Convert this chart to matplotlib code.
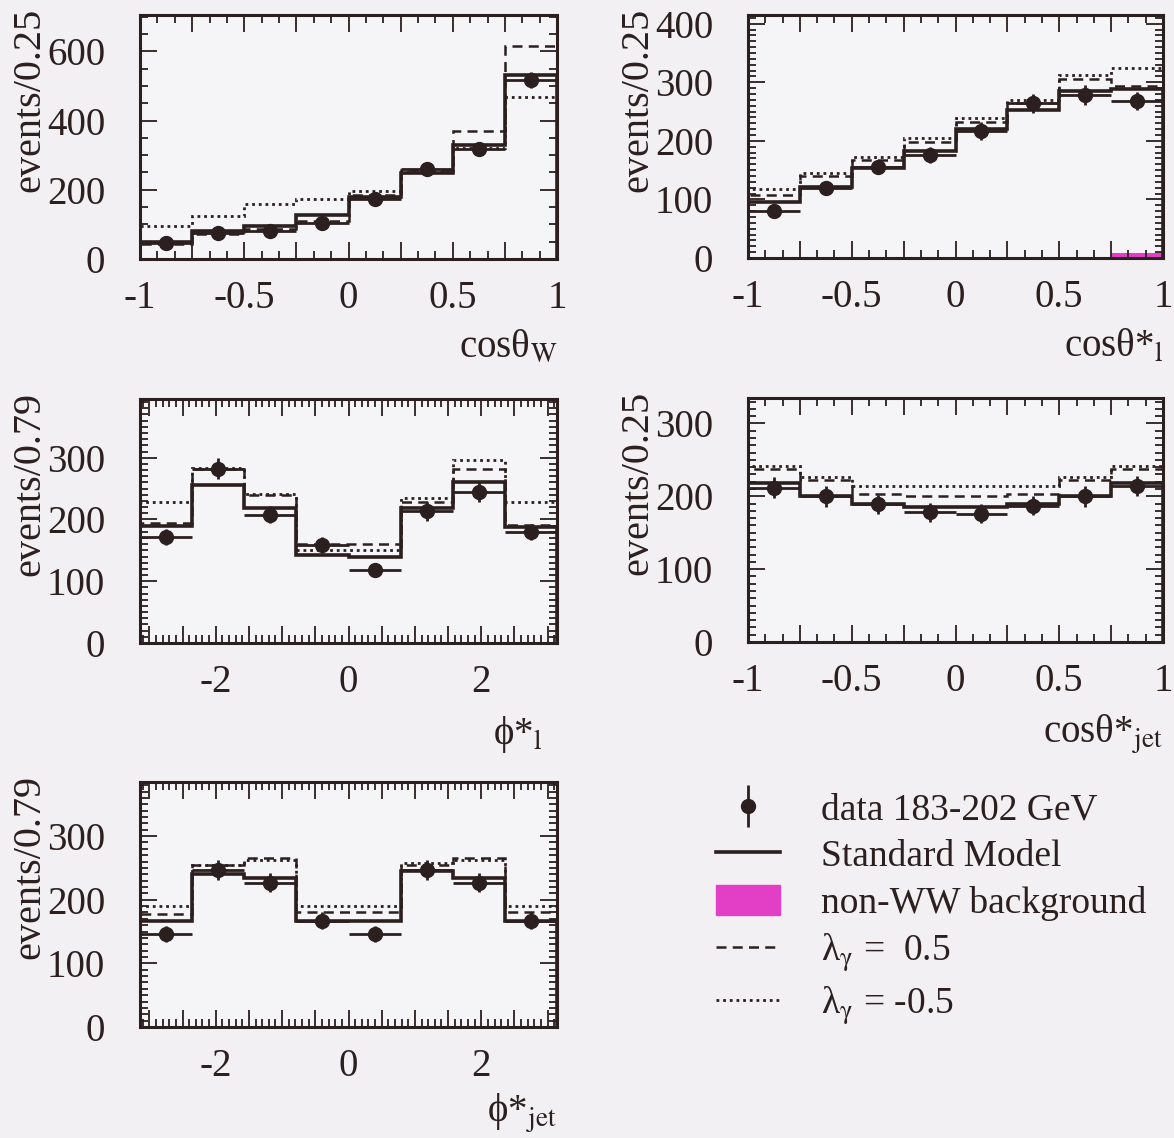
import numpy as np
import matplotlib.pyplot as plt
from matplotlib.lines import Line2D
from matplotlib.patches import Patch
from matplotlib.legend_handler import HandlerTuple
from matplotlib.ticker import MultipleLocator, FuncFormatter

plt.rcParams['font.family'] = ['Liberation Serif', 'DejaVu Serif']
plt.rcParams['mathtext.fontset'] = 'stix'
plt.rcParams['axes.unicode_minus'] = False

INK = '#2b1f1f'
BG = '#f2f0f2'
MAG = '#e23fc6'

# --- values (events per bin) ---
# cos theta_W
sm_cosw = [50, 80, 94, 127, 178, 248, 330, 532]
dash_cosw = [42, 72, 86, 110, 185, 258, 370, 615]
dot_cosw = [95, 124, 160, 172, 196, 252, 320, 468]
data_cosw = [45, 76, 82, 104, 172, 260, 318, 518]
err_cosw = [7, 9, 9, 10, 13, 16, 18, 23]

# cos theta*_l
sm_cosl = [95, 122, 153, 183, 220, 253, 286, 289]
dash_cosl = [108, 140, 168, 198, 232, 265, 305, 294]
dot_cosl = [117, 145, 172, 205, 239, 270, 312, 325]
data_cosl = [80, 120, 155, 176, 217, 264, 278, 268]
err_cosl = [9, 11, 12, 13, 15, 16, 17, 16]
bkg_cosl = [0, 0, 0, 0, 0, 0, 0, 8]

# phi*_l
sm_phil = [189, 255, 218, 142, 139, 218, 260, 187]
dash_phil = [195, 282, 239, 160, 160, 229, 282, 191]
dot_phil = [229, 284, 242, 150, 150, 234, 297, 229]
data_phil = [171, 282, 208, 158, 118, 213, 245, 179]
err_phil = [13, 17, 14, 13, 11, 15, 16, 13]

# cos theta*_jet
sm_cosj = [218, 200, 190, 186, 186, 190, 200, 218]
dash_cosj = [238, 222, 203, 200, 200, 203, 222, 238]
dot_cosj = [241, 227, 214, 214, 214, 214, 227, 241]
data_cosj = [212, 200, 189, 178, 176, 187, 200, 214]
err_cosj = [14, 14, 13, 13, 13, 13, 14, 14]

# phi*_jet
sm_phij = [167, 240, 234, 167, 167, 245, 234, 167]
dash_phij = [177, 255, 266, 180, 180, 255, 266, 180]
dot_phij = [190, 255, 262, 190, 190, 258, 262, 190]
data_phij = [146, 247, 227, 167, 146, 247, 227, 167]
err_phij = [12, 16, 15, 13, 12, 16, 15, 13]

cos_edges = np.linspace(-1, 1, 9)
phi_edges = np.linspace(-np.pi, np.pi, 9)

W, H = 1174, 1138
fig = plt.figure(figsize=(W / 100, H / 100), dpi=100, facecolor=BG)


def px_axes(left, top, right, bottom):
    return fig.add_axes([left / W, 1 - bottom / H, (right - left) / W, (bottom - top) / H])


def cos_fmt(v, pos):
    return f'{v:g}' if abs(v * 2 - round(v * 2)) < 1e-6 else ''


def phi_fmt(v, pos):
    return f'{v:g}' if abs(v) < 1e-6 or abs(abs(v) - 2) < 1e-6 else ''


def panel(ax, edges, sm, dash, dot, data, err, ylab, xlab, ytop, ymajor, yminor,
          kind, bkg=None, xlab_x=1.0, xlab_y=-0.29):
    ax.set_facecolor('#f5f4f6')
    if bkg is not None:
        ax.stairs(bkg, edges, fill=True, color=MAG, zorder=1)
    ax.stairs(sm, edges, color=INK, lw=2.6, zorder=3)
    ax.stairs(dash, edges, color=INK, lw=1.8, ls=(0, (4, 2.5)), zorder=3)
    ax.stairs(dot, edges, color=INK, lw=2.0, ls=(0, (1, 1.4)), zorder=3)
    centers = (edges[:-1] + edges[1:]) / 2
    half = (edges[1] - edges[0]) / 2
    ax.errorbar(centers, data, yerr=err, xerr=half, fmt='o', ms=10, color=INK,
                elinewidth=2, capsize=0, zorder=4)
    ax.set_xlim(edges[0], edges[-1])
    ax.set_ylim(0, ytop)
    if kind == 'cos':
        ax.xaxis.set_major_locator(MultipleLocator(0.25))
        ax.xaxis.set_minor_locator(MultipleLocator(0.25 / 3))
        ax.xaxis.set_major_formatter(FuncFormatter(cos_fmt))
    else:
        ax.xaxis.set_major_locator(MultipleLocator(0.5))
        ax.xaxis.set_minor_locator(MultipleLocator(0.1))
        ax.xaxis.set_major_formatter(FuncFormatter(phi_fmt))
    ax.yaxis.set_major_locator(MultipleLocator(ymajor))
    ax.yaxis.set_minor_locator(MultipleLocator(yminor))
    ax.tick_params(which='both', direction='in', top=True, right=True,
                   colors=INK, labelsize=28, width=1.3)
    ax.tick_params(which='major', length=12)
    ax.tick_params(which='minor', length=6)
    ax.tick_params(axis='x', pad=15)
    ax.tick_params(axis='y', pad=25)
    for s in ax.spines.values():
        s.set_linewidth(2.2)
        s.set_color(INK)
    ax.text(-0.265, 1.03, ylab, transform=ax.transAxes, rotation=90,
            ha='center', va='top', fontsize=29, color=INK)
    ax.text(xlab_x, xlab_y, xlab, transform=ax.transAxes, ha='right', va='top',
            fontsize=28, color=INK)


ax1 = px_axes(140, 15, 557, 259)
panel(ax1, cos_edges, sm_cosw, dash_cosw, dot_cosw, data_cosw, err_cosw,
      'events/0.25', r'cosθ$_{\mathrm{W}}$', 705, 200, 50, 'cos')

ax2 = px_axes(748, 15, 1163, 258)
panel(ax2, cos_edges, sm_cosl, dash_cosl, dot_cosl, data_cosl, err_cosl,
      'events/0.25', r'cosθ*$_{\mathrm{l}}$', 415, 100, 10, 'cos', bkg=bkg_cosl)

ax3 = px_axes(140, 399, 557, 643)
panel(ax3, phi_edges, sm_phil, dash_phil, dot_phil, data_phil, err_phil,
      'events/0.79', r'ϕ*$_{\mathrm{l}}$', 395, 100, 10, 'phi', xlab_x=0.965)

ax4 = px_axes(748, 398, 1163, 642)
panel(ax4, cos_edges, sm_cosj, dash_cosj, dot_cosj, data_cosj, err_cosj,
      'events/0.25', r'cosθ*$_{\mathrm{jet}}$', 335, 100, 10, 'cos')

ax5 = px_axes(140, 782, 557, 1027)
panel(ax5, phi_edges, sm_phij, dash_phij, dot_phij, data_phij, err_phij,
      'events/0.79', r'ϕ*$_{\mathrm{jet}}$', 385, 100, 10, 'phi', xlab_y=-0.265)

handles = [
    (Line2D([], [], marker='|', ms=30, mew=2, ls='none', color=INK),
     Line2D([], [], marker='o', ms=10, ls='none', color=INK)),
    Line2D([], [], color=INK, lw=2.6),
    Patch(facecolor=MAG, edgecolor=MAG),
    Line2D([], [], color=INK, lw=1.8, ls=(0, (4, 2.5))),
    Line2D([], [], color=INK, lw=2.0, ls=(0, (1, 1.4))),
]
labels = ['data 183-202 GeV', 'Standard Model', 'non-WW background',
          r'λ$_{\mathrm{γ}}$ =  0.5', r'λ$_{\mathrm{γ}}$ = -0.5']
fig.legend(handles, labels, loc='upper left', bbox_to_anchor=(716 / W, 1 - 792 / H),
           frameon=False, fontsize=27, handlelength=1.7, handleheight=0.85,
           handletextpad=1.1, labelspacing=0.28, borderpad=0, borderaxespad=0,
           labelcolor=INK, handler_map={tuple: HandlerTuple(ndivide=1)})

fig.savefig('out.png', dpi=100, facecolor=BG)
